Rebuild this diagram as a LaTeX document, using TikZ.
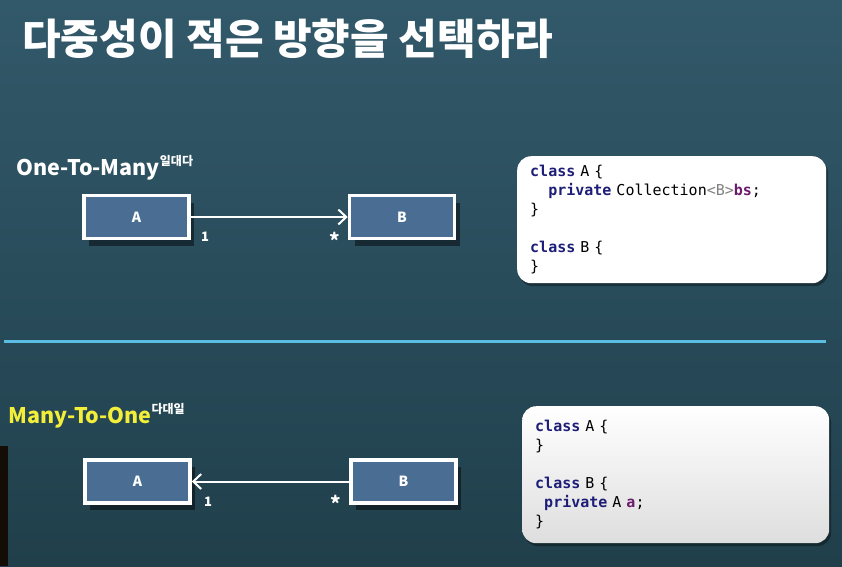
\documentclass[tikz,border=0pt]{standalone}
\usepackage{fontspec}
\setmainfont{Noto Sans CJK KR}
\newfontfamily\codefont{DejaVu Sans Mono}
\usetikzlibrary{arrows.meta,shapes,positioning,shadows,calc}
\definecolor{bgtop}{HTML}{32596A}
\definecolor{bgbot}{HTML}{203F4B}
\definecolor{boxblue}{HTML}{4A6D93}
\definecolor{sepblue}{HTML}{5CBDE2}
\definecolor{kwblue}{HTML}{1E1E78}
\definecolor{fldpurple}{HTML}{6B1B6E}
\definecolor{headyellow}{HTML}{F2EE3A}
\tikzset{
  cls/.style={draw=white, line width=3.5pt, fill=boxblue, minimum width=105pt, minimum height=43pt, text=white, font=\fontsize{14}{14}\selectfont\bfseries, drop shadow={shadow xshift=5pt, shadow yshift=-7pt, opacity=0.45, fill=black}},
  assoc/.style={draw=white, line width=2pt, -{Straight Barb[length=8pt,width=15pt,line width=2pt]}},
  mult/.style={text=white, inner sep=0pt, font=\fontsize{13}{13}\selectfont\bfseries},
  codebox/.style={rounded corners=14pt, anchor=north west, align=left, inner xsep=13pt, inner ysep=0pt, text=black, font=\codefont\fontsize{15}{19}\selectfont, drop shadow={shadow xshift=2pt, shadow yshift=-3pt, opacity=0.35, fill=black}},
  head/.style={anchor=base west, inner sep=0pt, font=\fontsize{21.5}{21.5}\selectfont\bfseries}
}
\newcommand{\kw}[1]{\textcolor{kwblue}{\bfseries #1}}
\newcommand{\fld}[1]{\textcolor{fldpurple}{\bfseries #1}}
\newcommand{\supkr}[1]{\raisebox{10pt}{\color{white}\fontsize{12}{12}\selectfont #1}}
\begin{document}
\begin{tikzpicture}[x=1pt,y=-1pt]
\useasboundingbox (0,0) rectangle (842,566);
\shade[top color=bgtop, bottom color=bgbot] (0,0) rectangle (842,566);
\fill[black!90!brown] (0,446) rectangle (8,566);
\node[anchor=base west, inner sep=0pt, text=white, font=\fontsize{42}{42}\selectfont\bfseries] (title) at (22,54) {다중성이 적은 방향을 선택하라};

\node[head, text=white] (head1) at (16,175) {One-To-Many\supkr{일대다}};
\node[cls] (a1) at (136.5,217) {A};
\node[cls] (b1) at (402,217) {B};
\draw[assoc] (a1.east) -- (b1.west);
\node[mult] (m1) at (205,237) {1};
\node[mult, font=\fontsize{20}{20}\selectfont\bfseries] (n1) at (335,240) {*};
\node[codebox, fill=white, text width=283pt, minimum height=127pt] (code1) at (517,156) {\kw{class} A \{\\
\hphantom{xx}\kw{private} Collection\textcolor{gray}{<B>}\fld{bs};\\
\}\\[19pt]
\kw{class} B \{\\
\}};

\draw[sepblue, line width=3pt] (4,341) coordinate (s1) -- (826,341) coordinate (s2);

\node[head, text=headyellow] (head2) at (8,423) {Many-To-One\supkr{다대일}};
\node[cls] (a2) at (137.5,481.5) {A};
\node[cls] (b2) at (403.5,481.5) {B};
\draw[assoc] (b2.west) -- (a2.east);
\node[mult] (m2) at (208,502) {1};
\node[mult, font=\fontsize{20}{20}\selectfont\bfseries] (n2) at (336,503) {*};
\node[codebox, top color=white, bottom color=black!13, text width=281pt, minimum height=137pt] (code2) at (522,406) {\kw{class} A \{\\
\}\\[19pt]
\kw{class} B \{\\
\hphantom{x}\kw{private} A \fld{a};\\
\}};
\end{tikzpicture}
\end{document}
